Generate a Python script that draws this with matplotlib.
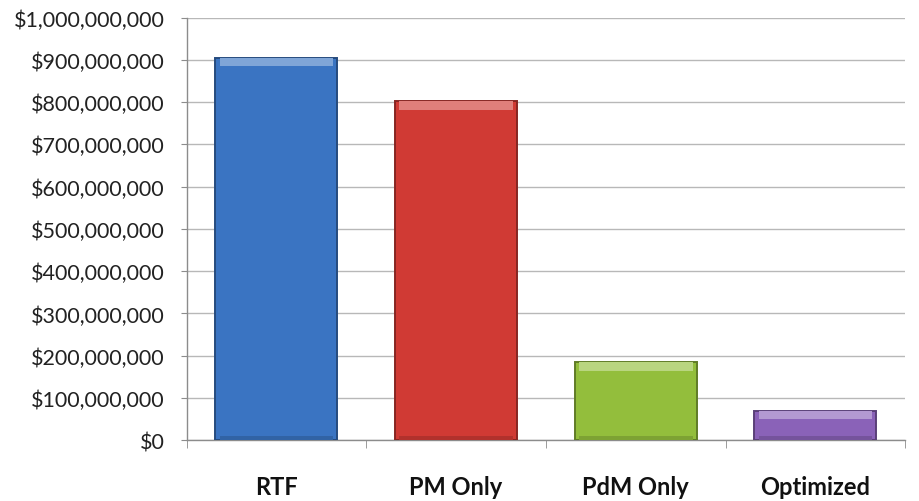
import matplotlib
matplotlib.use("Agg")
from matplotlib import pyplot as plt
from matplotlib.ticker import FuncFormatter, FixedLocator
import matplotlib.colors as mcolors
import numpy as np

plt.rcParams["font.family"] = ["Lato", "DejaVu Sans"]

strategies = ["RTF", "PM Only", "PdM Only", "Optimized"]
costs = [905_000_000, 802_000_000, 185_000_000, 70_000_000]
bar_colors = ["#3A74C2", "#D03A34", "#93BE3C", "#8A62B8"]


def shade(color, factor):
    rgb = np.array(mcolors.to_rgb(color))
    if factor > 1:
        return tuple(rgb + (1 - rgb) * (factor - 1))
    return tuple(rgb * factor)


fig = plt.figure(figsize=(9.19, 5.02), dpi=100)
ax = fig.add_axes([0.203, 0.121, 0.782, 0.842])

x = np.arange(len(strategies))
width = 0.68
ymax = 1_000_000_000
bevel = ymax * 0.02

for xi, val, c in zip(x, costs, bar_colors):
    # main body with darker rim
    ax.bar(xi, val, width=width, color=c, edgecolor=shade(c, 0.65),
           linewidth=1.4, zorder=3)
    # lighter bevel along the top edge
    ax.bar(xi, bevel, bottom=val - bevel, width=width * 0.93,
           color=shade(c, 1.35), linewidth=0, zorder=4)
    # soft shading along the bottom edge
    ax.bar(xi, bevel * 0.5, bottom=0, width=width * 0.93,
           color=shade(c, 0.85), linewidth=0, zorder=4)

ax.set_xlim(-0.5, len(strategies) - 0.5)
ax.set_ylim(0, ymax)
ax.yaxis.set_major_locator(FixedLocator(np.arange(0, ymax + 1, 100_000_000)))
ax.yaxis.set_major_formatter(FuncFormatter(lambda v, p: f"${v:,.0f}"))

ax.set_xticks(x)
ax.set_xticklabels(strategies, fontsize=17, fontweight="bold", color="#111111")
ax.set_xticks(np.arange(-0.5, len(strategies)), minor=True)
ax.tick_params(axis="x", which="major", length=0, pad=25)
ax.tick_params(axis="x", which="minor", length=6, color="#8c8c8c")
ax.tick_params(axis="y", length=4.5, color="#8c8c8c", labelsize=15.5,
               labelcolor="#222222", pad=11)

ax.grid(axis="y", color="#b8b8b8", linewidth=1.0, zorder=0)
ax.set_axisbelow(True)
for side in ["top", "right"]:
    ax.spines[side].set_visible(False)
for side in ["left", "bottom"]:
    ax.spines[side].set_color("#8c8c8c")
    ax.spines[side].set_linewidth(1.0)

fig.savefig("out.png", dpi=100)
